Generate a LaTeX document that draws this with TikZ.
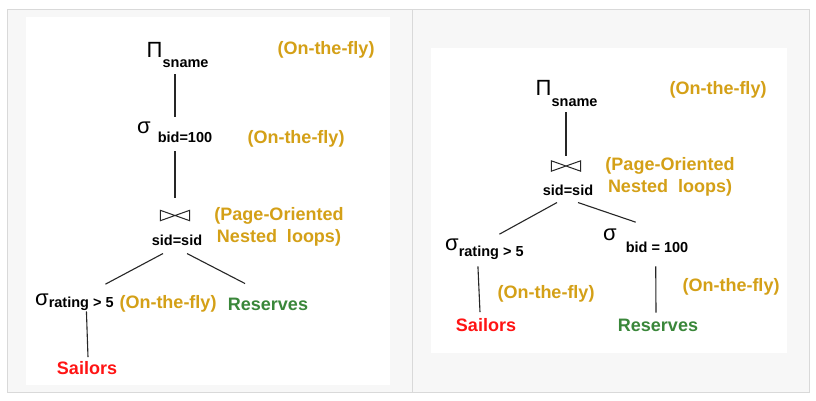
\documentclass[tikz,border=0pt]{standalone}
\usepackage{fontspec}
\setmainfont{Liberation Sans}
\usetikzlibrary{calc}
\definecolor{gold}{RGB}{212,160,23}
\definecolor{rsgreen}{RGB}{58,135,58}
\definecolor{rsred}{RGB}{255,20,20}
\definecolor{panelbg}{RGB}{247,247,247}
\definecolor{panelline}{RGB}{217,217,217}
\newcommand\opsym[1]{{\fontsize{22}{22}\selectfont\mdseries #1}}
\begin{document}
\begin{tikzpicture}[x=1pt,y=-1pt,
  lbl/.style={font=\fontsize{18}{22}\selectfont\bfseries, inner sep=0pt},
  ann/.style={lbl, text=gold, align=center},
  op/.style={inner sep=0pt, anchor=base west, font=\fontsize{14.5}{16}\selectfont\bfseries},
  cond/.style={inner sep=0pt, font=\fontsize{14.5}{16}\selectfont\bfseries},
  joinsym/.style={inner sep=0pt, minimum width=29pt, minimum height=10pt},
  tie/.style={draw=black!85, line width=1pt, line join=miter},
  edge/.style={draw=black!85, line width=1.1pt}]
\useasboundingbox (0,0) rectangle (816,400);
\fill[white] (0,0) rectangle (816,400);
\draw[panelline, fill=panelbg, line width=0.8pt] (7,9) rectangle (809,392);
\draw[panelline, line width=0.8pt] (412,9) -- (412,392);
\fill[white] (26,17) rectangle (390,385);
\fill[white] (431,48) rectangle (787,353);

% ---------------- left plan ----------------
\node[op] (pi1) at (146.5,57) {\opsym{Π}\raisebox{-10pt}{sname}};
\node[op] (sig1) at (137,133) {\opsym{σ}\hspace{7pt}\raisebox{-9pt}{bid=100}};
\node[joinsym] (bt1) at (175,215.5) {};
\draw[tie] (bt1.north west) -- (bt1.south east) -- (bt1.north east) -- (bt1.south west) -- cycle;
\node[cond] (sid1) at (177,240) {sid=sid};
\node[op] (sig2) at (35,305) {\opsym{σ}\raisebox{-2pt}{rating > 5}};
\node[lbl, text=rsred] (sail1) at (87,368) {Sailors};
\node[lbl, text=rsgreen] (res1) at (268,304) {Reserves};
\node[ann] (a1) at (326,50) {(On-the-fly)};
\node[ann] (a2) at (296,139) {(On-the-fly)};
\node[ann] (a3) at (279,227) {(Page-Oriented\\Nested\ \ loops)};
\node[ann] (a4) at (168,304) {(On-the-fly)};

\draw[edge] ([yshift=-7pt]pi1.south -| bt1.north) -- ([yshift=4pt]sig1.north -| bt1.north);
\draw[edge] ([yshift=-9pt]sig1.south -| bt1.north) -- ([yshift=12pt]bt1.north);
\draw[edge] ([xshift=-14pt,yshift=-8pt]sid1.south) -- ([xshift=31pt,yshift=9pt]sig2.north);
\draw[edge] ([xshift=10pt,yshift=-8pt]sid1.south) -- ([xshift=-23pt,yshift=14pt]res1.north);
\draw[edge] ([xshift=12pt,yshift=-1pt]sig2.south) -- ([xshift=1pt,yshift=4pt]sail1.north);

% ---------------- right plan ----------------
\node[op] (pi2) at (535.5,95) {\opsym{Π}\raisebox{-11pt}{sname}};
\node[joinsym] (bt2) at (566,166) {};
\draw[tie] (bt2.north west) -- (bt2.south east) -- (bt2.north east) -- (bt2.south west) -- cycle;
\node[cond] (sid2) at (568,190) {sid=sid};
\node[op] (sig3) at (445,250) {\opsym{σ}\raisebox{-6pt}{rating > 5}};
\node[op] (sig4) at (603,240) {\opsym{σ}\hspace{9pt}\raisebox{-12pt}{bid = 100}};
\node[lbl, text=rsred] (sail2) at (486,325) {Sailors};
\node[lbl, text=rsgreen] (res2) at (658,325) {Reserves};
\node[ann] (b1) at (718,90) {(On-the-fly)};
\node[ann] (b2) at (670,177) {(Page-Oriented\\Nested\ \ loops)};
\node[ann] (b3) at (546,294) {(On-the-fly)};
\node[ann] (b4) at (731,287) {(On-the-fly)};

\draw[edge] ([yshift=-6pt]pi2.south -| bt2.north) -- ([yshift=5pt]bt2.north);
\draw[edge] ([xshift=-11pt,yshift=-7pt]sid2.south) -- ([xshift=15pt,yshift=4pt]sig3.north);
\draw[edge] ([xshift=10pt,yshift=-7pt]sid2.south) -- ([xshift=-10pt,yshift=6pt]sig4.north);
\draw[edge] ([xshift=-6.5pt,yshift=-7pt]sig3.south) -- ([xshift=-6pt,yshift=6pt]sail2.north);
\draw[edge] ([xshift=10pt,yshift=-14pt]sig4.south) -- ([xshift=-2pt,yshift=6pt]res2.north);
\end{tikzpicture}
\end{document}
